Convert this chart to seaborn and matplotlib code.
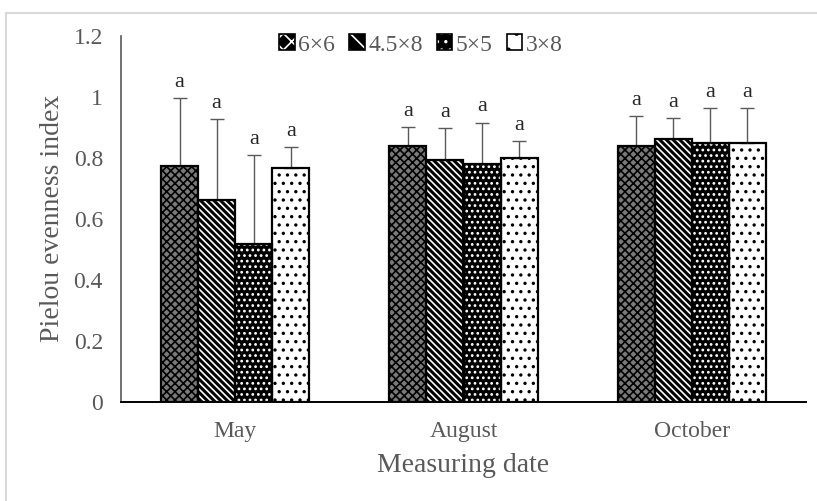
import matplotlib
matplotlib.use("Agg")
import matplotlib.pyplot as plt
from matplotlib.patches import Patch, Rectangle
from matplotlib.legend_handler import HandlerTuple
import seaborn as sns
import pandas as pd
import numpy as np

dates = ["May", "August", "October"]
spacings = ["6×6", "4.5×8", "5×5", "3×8"]
means = {
    "6×6":   [0.775, 0.840, 0.840],
    "4.5×8": [0.662, 0.793, 0.862],
    "5×5":   [0.517, 0.779, 0.850],
    "3×8":   [0.768, 0.800, 0.850],
}
errs = {
    "6×6":   [0.220, 0.060, 0.098],
    "4.5×8": [0.266, 0.104, 0.068],
    "5×5":   [0.292, 0.137, 0.113],
    "3×8":   [0.067, 0.054, 0.113],
}
letters = {s: ["a", "a", "a"] for s in spacings}
yticks = [0, 0.2, 0.4, 0.6, 0.8, 1.0, 1.2]
ytick_labels = ["0", "0.2", "0.4", "0.6", "0.8", "1", "1.2"]

styles = {
    "6×6":   dict(face="#7a7a7a", hatch="xxxx", hcol="black", hlw=1.2),
    "4.5×8": dict(face="white", hatch="\\\\\\\\\\", hcol="black", hlw=2.2),
    "5×5":   dict(face="black", hatch="...", hcol="white", hlw=1.2),
    "3×8":   dict(face="white", hatch="..", hcol="black", hlw=1.2),
}
leg_styles = {
    "6×6":   dict(face="black", hatch="xx", hcol="white"),
    "4.5×8": dict(face="black", hatch="\\\\", hcol="white"),
    "5×5":   dict(face="black", hatch="..", hcol="white"),
    "3×8":   dict(face="white", hatch=".", hcol="black"),
}

rows = []
for s in spacings:
    for d, v in zip(dates, means[s]):
        rows.append({"date": d, "spacing": s, "value": v})
df = pd.DataFrame(rows)

sns.set_style("white")
plt.rcParams["font.family"] = ["Liberation Serif", "DejaVu Serif"]
plt.rcParams["hatch.linewidth"] = 1.2

fig = plt.figure(figsize=(8.17, 5.01), dpi=100)
ax = fig.add_axes([121 / 817, 1 - 401.7 / 501, (806 - 121) / 817, (401.7 - 36) / 501])

sns.barplot(data=df, x="date", y="value", hue="spacing", order=dates,
            hue_order=spacings, errorbar=None, width=0.65, ax=ax,
            palette=["white"] * 4, legend=False)

grey = "#595959"
for s, cont in zip(spacings, ax.containers):
    st = styles[s]
    xs = []
    for p in cont.patches:
        p.set_facecolor(st["face"])
        p.set_hatch(st["hatch"])
        p.set_edgecolor(st["hcol"])
        p.set_linewidth(0)
        if hasattr(p, "set_hatch_linewidth"):
            p.set_hatch_linewidth(st["hlw"])
        ax.add_patch(Rectangle((p.get_x(), p.get_y()), p.get_width(), p.get_height(),
                               facecolor="none", edgecolor="black", linewidth=1.6, zorder=3))
        xs.append(p.get_x() + p.get_width() / 2)
    xs = np.array(xs)
    m = np.array(means[s])
    e = np.array(errs[s])
    ax.errorbar(xs, m, yerr=[np.zeros_like(e), e], fmt="none", ecolor=grey,
                elinewidth=1.0, capsize=5, capthick=1.0, zorder=2)
    for x, y, err, lt in zip(xs, m, e, letters[s]):
        ax.text(x, y + err + 0.02, lt, ha="center", va="bottom", fontsize=16, color="#262626")

ax.set_ylim(0, 1.2)
ax.set_xlim(-0.5, 2.5)
ax.set_yticks(yticks)
ax.set_yticklabels(ytick_labels)
ax.tick_params(axis="y", direction="in", length=7, width=1, color=grey, labelsize=17,
               labelcolor=grey, pad=13)
ax.set_xticks(range(len(dates)))
ax.set_xticklabels(dates)
ax.tick_params(axis="x", which="major", length=0, labelsize=17, labelcolor=grey, pad=14)
ax.set_xticks([0.5, 1.5], minor=True)
ax.tick_params(axis="x", which="minor", direction="in", length=5, width=1, color=grey)

ax.set_xlabel("Measuring date", fontsize=20, color=grey, labelpad=8)
ax.set_ylabel("Pielou evenness index", fontsize=20, color=grey, labelpad=6)

for side in ["top", "right"]:
    ax.spines[side].set_visible(False)
ax.spines["left"].set_color(grey)
ax.spines["left"].set_linewidth(1.2)
ax.spines["bottom"].set_color("black")
ax.spines["bottom"].set_linewidth(1.4)

handles = []
for s in spacings:
    st = leg_styles[s]
    base = Patch(facecolor=st["face"], hatch=st["hatch"], edgecolor=st["hcol"], linewidth=0)
    outline = Patch(facecolor="none", edgecolor="black", linewidth=1.2)
    handles.append((base, outline))
leg = fig.legend(handles=handles, labels=spacings, loc="center",
                 bbox_to_anchor=(421 / 817, 1 - 45 / 501),
                 handler_map={tuple: HandlerTuple(ndivide=1, pad=0)},
                 ncol=4, frameon=False, fontsize=17, handlelength=0.65, handleheight=0.65,
                 handletextpad=0.15, columnspacing=0.6, labelcolor=grey)

# chart-area border (light grey, as in reference)
fig.add_artist(plt.Line2D([6 / 817, 6 / 817], [0, 1 - 13 / 501], color="#d9d9d9", lw=1.5,
                          transform=fig.transFigure))
fig.add_artist(plt.Line2D([6 / 817, 1], [1 - 13 / 501, 1 - 13 / 501], color="#d9d9d9", lw=1.5,
                          transform=fig.transFigure))

fig.savefig("out.png", dpi=100)
